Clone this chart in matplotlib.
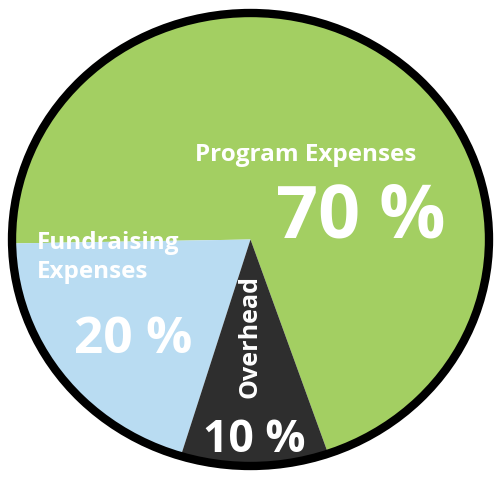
import matplotlib.pyplot as plt
from matplotlib.patches import Circle

# Data
labels = ['Program Expenses', 'Fundraising Expenses', 'Overhead']
values = [70, 20, 10]
colors = ['#a3cf62', '#b9dcf2', '#2e2e2e']

plt.rcParams['font.family'] = ['Open Sans', 'DejaVu Sans']

W, H = 500, 479
fig = plt.figure(figsize=(W / 100, H / 100), dpi=100)
ax = fig.add_axes([0, 0, 1, 1])

# pie is a bit wider than tall in the picture
cx, cy = 250.5, 239.5   # centre in pixels
rx, ry = 238.5, 226.5   # semi-axes in pixels

ax.pie(values, colors=colors, startangle=-71, counterclock=True,
       radius=1, wedgeprops=dict(linewidth=0))
ax.add_patch(Circle((0, 0), 1, fill=False, edgecolor='black', linewidth=6))
ax.set_aspect('auto')
ax.set_xlim(-cx / rx, (W - cx) / rx)
ax.set_ylim(-(H - cy) / ry, cy / ry)
ax.axis('off')


def px(x, y):
    # pixel position -> data position
    return (x - cx) / rx, (cy - y) / ry


def label(x, y, s, size, **kw):
    ax.text(*px(x, y), s, color='white', fontsize=size, fontweight='bold', **kw)


label(306, 161, 'Program Expenses', 17.5, ha='center', va='baseline')
label(361, 238, '70 %', 53, ha='center', va='baseline')
label(37, 249, 'Fundraising', 17.5, ha='left', va='baseline')
label(37, 278, 'Expenses', 17.5, ha='left', va='baseline')
label(133, 353, '20 %', 37, ha='center', va='baseline')
label(250, 337, 'Overhead', 18, ha='center', va='center', rotation=90)
label(254, 452, '10 %', 32, ha='center', va='baseline')

fig.savefig('out.png', dpi=100, facecolor='white')
